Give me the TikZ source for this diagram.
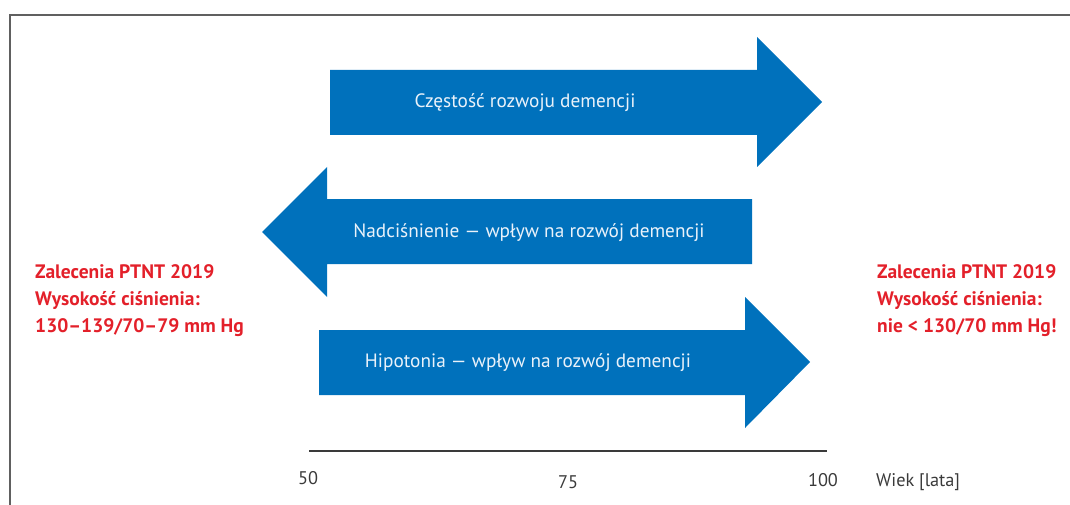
\documentclass[tikz,border=0pt]{standalone}
\usepackage{fontspec}
\setmainfont{PT Sans}
\definecolor{arrowblue}{HTML}{0071BC}
\definecolor{recred}{HTML}{E3202A}
\definecolor{framegray}{HTML}{606060}
\definecolor{axisgray}{HTML}{3A3A3A}
\definecolor{arrowtext}{HTML}{EAF2FA}
\tikzset{
  bigarrow/.style={fill=arrowblue, draw=none},
  arrowlabel/.style={text=arrowtext, font=\fontsize{19.3}{22}\selectfont, inner sep=0pt, anchor=base},
  reclabel/.style={text=recred, font=\bfseries\fontsize{19.5}{22}\selectfont, inner sep=0pt, anchor=base west},
  ticklabel/.style={text=axisgray, font=\fontsize{18.3}{21}\selectfont, inner sep=0pt, anchor=base},
}
\begin{document}
\begin{tikzpicture}[x=1pt, y=-1pt]
\useasboundingbox (0,0) rectangle (1070,505);
% frame
\draw[framegray, line width=1.5pt] (1070,15) -- (10,15) -- (10,505);
% arrows
\fill[bigarrow] (330,70) -- (757,70) -- (757,37) -- (822,102) -- (757,167) -- (757,135) -- (330,135) -- cycle;
\fill[bigarrow] (752,199) -- (327,199) -- (327,167) -- (262,232) -- (327,297) -- (327,264) -- (752,264) -- cycle;
\fill[bigarrow] (319,330) -- (745,330) -- (745,297) -- (810,362) -- (745,428) -- (745,395) -- (319,395) -- cycle;
\node[arrowlabel] (t1) at (525,108) {Częstość rozwoju demencji};
\node[arrowlabel] (t2) at (529,237) {Nadciśnienie — wpływ na rozwój demencji};
\node[arrowlabel] (t3) at (528,367) {Hipotonia — wpływ na rozwój demencji};
% recommendations
\node[reclabel] (l1) at (35,278) {Zalecenia PTNT 2019};
\node[reclabel] (l2) at (35,305) {Wysokość ciśnienia:};
\node[reclabel] (l3) at (35,332) {130–139/70–79 mm Hg};
\node[reclabel] (r1) at (877,278) {Zalecenia PTNT 2019};
\node[reclabel] (r2) at (877,305) {Wysokość ciśnienia:};
\node[reclabel] (r3) at (877,332) {nie < 130/70 mm Hg!};
% axis
\coordinate (a0) at (309,451);
\coordinate (a1) at (827,451);
\draw[axisgray, line width=1.3pt] (a0) -- (a1);
\node[ticklabel] (n50) at (308,484) {50};
\node[ticklabel] (n75) at (568,488) {75};
\node[ticklabel] (n100) at (823,486) {100};
\node[ticklabel, anchor=base west] (wiek) at (876,486) {Wiek [lata]};
\end{tikzpicture}
\end{document}
